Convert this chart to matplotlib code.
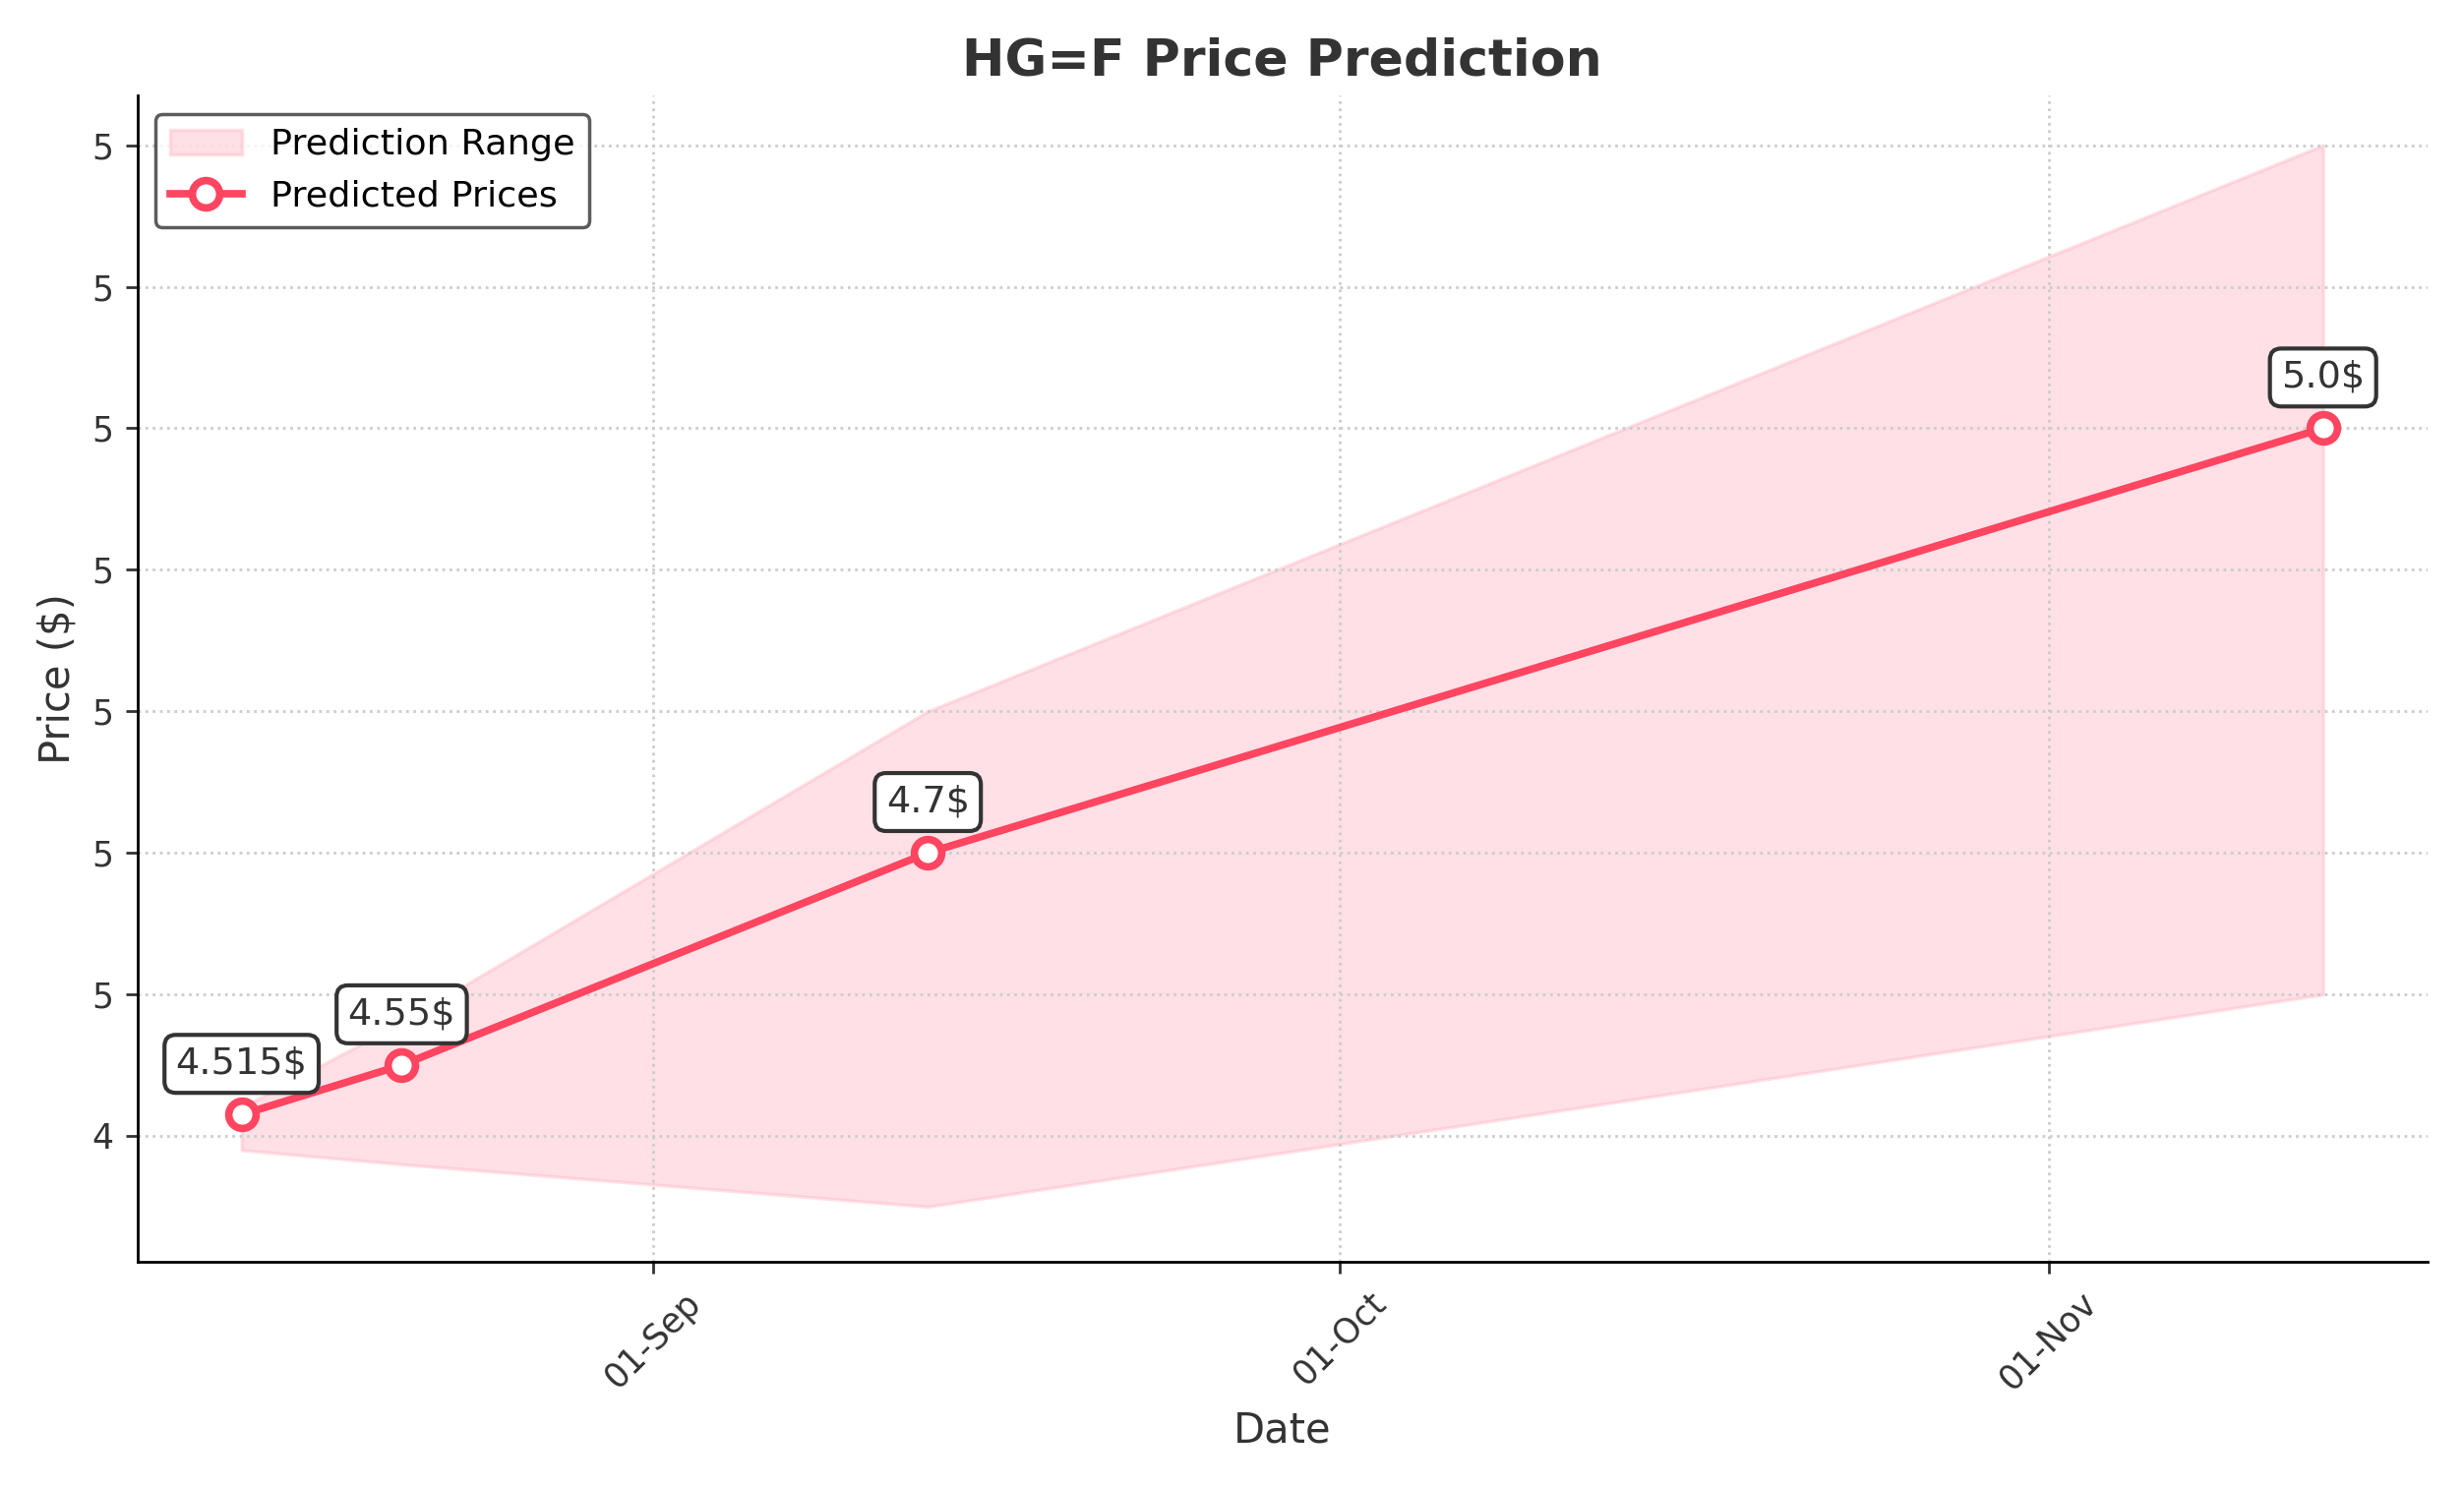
import numpy as np
import pandas as pd
import matplotlib
matplotlib.use('Agg')
import matplotlib.pyplot as plt
import matplotlib.dates as mdates
from matplotlib.ticker import FormatStrFormatter

dates = pd.to_datetime(['2024-08-14', '2024-08-21', '2024-09-13', '2024-11-13'])
prices = [4.515, 4.55, 4.7, 5.0]
lower = [4.49, 4.48, 4.45, 4.6]
upper = [4.52, 4.58, 4.8, 5.2]

red = '#ff4560'
fig, ax = plt.subplots(figsize=(10.02, 6.052), dpi=250)
ax.fill_between(dates, lower, upper, color='#ffb3c1', alpha=0.4, label='Prediction Range')
ax.plot(dates, prices, color=red, lw=2.2, marker='o', markersize=8, markerfacecolor='white',
        markeredgewidth=2.2, label='Predicted Prices')
for d, p in zip(dates, prices):
    ax.annotate(f'{p}$', (d, p), xytext=(0, 12), textcoords='offset points', ha='center',
                fontsize=11, color='#333333',
                bbox=dict(boxstyle='round,pad=0.3', fc='white', ec='#333333', lw=1.2))

ax.set_ylim(4.411, 5.235)
ax.set_yticks(np.arange(4.5, 5.25, 0.1))
ax.yaxis.set_major_formatter(FormatStrFormatter('%.0f'))
ax.xaxis.set_major_locator(mdates.MonthLocator())
ax.xaxis.set_major_formatter(mdates.DateFormatter('%d-%b'))
plt.setp(ax.get_xticklabels(), rotation=45)
ax.tick_params(colors='#333333', labelsize=10)
ax.grid(True, linestyle=':', color='#cccccc')
ax.spines['top'].set_visible(False)
ax.spines['right'].set_visible(False)
ax.set_title('HG=F Price Prediction', fontsize=15, fontweight='bold', color='#333333')
ax.set_xlabel('Date', fontsize=12, color='#333333')
ax.set_ylabel('Price ($)', fontsize=12, color='#333333')
leg = ax.legend(loc='upper left', fontsize=10.5, edgecolor='#333333')
plt.tight_layout()
plt.savefig('out.png', dpi=250)
